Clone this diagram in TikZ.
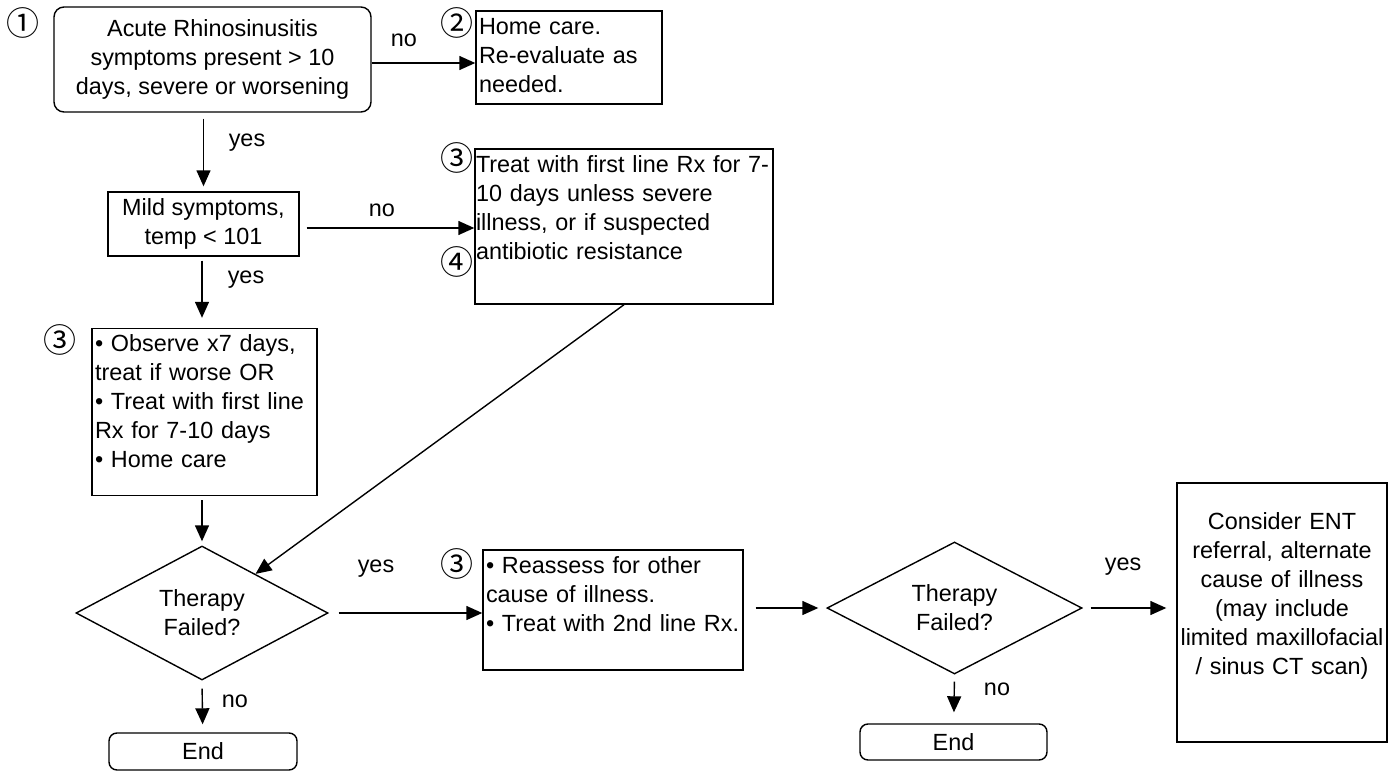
\documentclass[tikz,border=0pt]{standalone}
\usepackage{fontspec}
\setmainfont{Liberation Sans}
\newfontfamily\circfont{Noto Sans CJK SC}
\usetikzlibrary{shapes.geometric,arrows.meta}
\tikzset{
  every node/.style={font=\fontsize{11.7}{14.5}\selectfont},
  arr/.style={-{Triangle[length=8pt,width=7pt]},line width=0.7pt},
  box/.style={draw,line width=0.7pt,inner sep=0pt,align=center},
  rbox/.style={box,rounded corners=5pt},
  tbox/.style={draw,line width=0.7pt,inner xsep=1.5pt,inner ysep=0pt,align=left,text height=11.5pt},
  dec/.style={draw,line width=0.7pt,diamond,inner sep=0pt,align=center},
  num/.style={font=\circfont\fontsize{16.5}{16.5}\selectfont,inner sep=0pt}
}
\begin{document}
\begin{tikzpicture}[x=0.5pt,y=-0.5pt]
\useasboundingbox(0,0)rectangle(1388,771);
\node[rbox,minimum width=158.5pt,minimum height=52.5pt](start)at(212.5,59.5){Acute Rhinosinusitis\\symptoms present > 10\\days, severe or worsening};
\node[tbox,text width=90pt,text depth=35pt](home)at(569,57.5){Home care.\\Re-evaluate as\\needed.};
\node[box,minimum width=95.5pt,minimum height=32pt](mild)at(203.5,224){Mild symptoms,\\temp < 101};
\node[tbox,inner xsep=0.5pt,text width=148pt,text depth=66pt](treat)at(624,226.5){\mbox{Treat with first line Rx for 7-}\\10 days unless severe\\illness, or if suspected\\antibiotic resistance};
\node[tbox,text width=109.5pt,text depth=72pt](observe)at(204.5,412){• Observe x7 days,\\treat if worse OR\\• Treat with first line\\Rx for 7-10 days\\• Home care};
\node[dec,minimum width=126pt,minimum height=67pt](d1)at(202,613){Therapy\\Failed?};
\node[tbox,text width=127pt,text depth=48.5pt](reassess)at(613,610){• Reassess for other\\cause of illness.\\• Treat with 2nd line Rx.};
\node[dec,minimum width=127.5pt,minimum height=62pt](d2)at(954.5,608){Therapy\\Failed?};
\node[draw,line width=0.7pt,inner xsep=1pt,inner ysep=0pt,align=center,text width=103pt,text height=23pt,text depth=106.5pt](ent)at(1282,612.5){Consider ENT\\referral, alternate\\cause of illness\\(may include\\limited maxillofacial\\/ sinus CT scan)};
\node[rbox,rounded corners=4pt,minimum width=94pt,minimum height=18.5pt](end1)at(203,751.5){End};
\node[rbox,rounded corners=4pt,minimum width=93.5pt,minimum height=18pt](end2)at(953.5,742){End};
\node[num](n1)at(23,23){①};
\node[num](n2)at(457,23){②};
\node[num](n3a)at(457,158){③};
\node[num](n4)at(457,262){④};
\node[num](n3b)at(60,340){③};
\node[num](n3c)at(457,564){③};
\node(no1)at(404,40){no};
\node(yes1)at(247,143){yes};
\node(no2)at(382,210){no};
\node(yes2)at(246,280){yes};
\node(yes3)at(376,569){yes};
\node(no3)at(235,701){no};
\node(yes4)at(1123,567){yes};
\node(no4)at(997,689){no};
\draw[arr]([yshift=-1.75pt]start.east)--([yshift=-1.75pt]start.east-|home.west);
\draw[arr,shorten <=3pt,shorten >=2.5pt](start.south-|mild)--(mild);
\draw[arr,shorten <=3.5pt]([yshift=-2pt]mild.east)--([yshift=-2pt]mild.east-|treat.west);
\draw[arr,shorten <=2pt,shorten >=5pt](mild.south-|d1)--(observe.north-|d1);
\draw[arr,shorten <=2pt,shorten >=2pt](observe.south-|d1)--(d1);
\draw[arr](treat.south)--(d1);
\draw[arr,shorten <=5pt](d1.east)--(d1.east-|reassess.west);
\draw[arr,shorten <=4pt,shorten >=4pt](d1.south)--(end1);
\draw[arr,shorten <=6pt,shorten >=4pt](reassess.east|-d2)--(d2.west);
\draw[arr,shorten <=4pt,shorten >=5pt](d2.east)--(d2.east-|ent.west);
\draw[arr,shorten <=3.5pt,shorten >=5.5pt](d2.south)--(end2);
\end{tikzpicture}
\end{document}
